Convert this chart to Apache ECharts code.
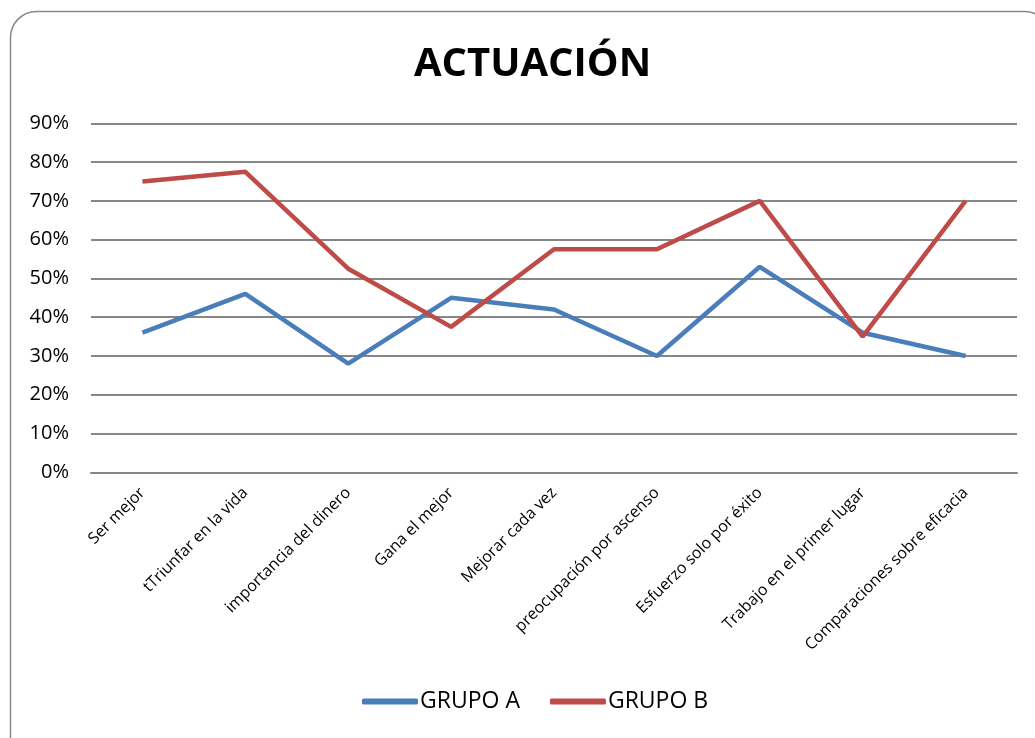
<!DOCTYPE html>
<html><head><meta charset="utf-8">
<script src="https://cdn.jsdelivr.net/npm/echarts@6/dist/echarts.min.js"></script>
<style>html,body{margin:0;padding:0;background:#fff}#c{width:1035px;height:738px}</style>
</head><body><div id="c"></div>
<script>
const categories = ['Ser mejor','tTriunfar en la vida','importancia del dinero','Gana el mejor','Mejorar cada vez','preocupación por ascenso','Esfuerzo solo por éxito','Trabajo en el primer lugar','Comparaciones sobre eficacia'];
const grupoA = [0.36,0.46,0.28,0.45,0.42,0.30,0.53,0.36,0.30];
const grupoB = [0.75,0.775,0.525,0.375,0.575,0.575,0.70,0.35,0.70];
const seriesNames = ['GRUPO A','GRUPO B'];
const titleText = 'ACTUACIÓN';

const chart = echarts.init(document.getElementById('c'), null, {renderer:'canvas'});
const font = '"Open Sans", "Noto Sans", sans-serif';
chart.setOption({
  animation:false,
  backgroundColor:'#fff',
  graphic:[{type:'rect',shape:{x:10.5,y:11.5,width:1040,height:760,r:26},style:{fill:'none',stroke:'#888',lineWidth:1.5},z:-1}],
  title:{text:titleText,left:409,top:40,textStyle:{fontFamily:font,fontSize:40,fontWeight:'bold',color:'#000'}},
  legend:{bottom:20,left:357,itemWidth:56,itemHeight:6,itemGap:30,icon:'roundRect',
    textStyle:{fontFamily:font,fontSize:23,color:'#000',padding:[0,0,0,-3]},data:seriesNames},
  grid:{left:91,right:18,top:123.3,height:349},
  xAxis:{type:'category',data:categories,boundaryGap:true,
    axisLine:{lineStyle:{color:'#868686',width:2}},axisTick:{show:false},
    axisLabel:{rotate:45,interval:0,fontFamily:font,fontSize:16,color:'#000',margin:18}},
  yAxis:{type:'value',min:0,max:0.9,interval:0.1,
    axisLine:{show:false},axisTick:{show:false},
    splitLine:{lineStyle:{color:'#868686',width:2}},
    axisLabel:{fontFamily:font,fontSize:20,color:'#000',margin:22,formatter:v=>Math.round(v*100)+'%'}},
  series:[
    {name:seriesNames[0],type:'line',data:grupoA,symbol:'none',lineStyle:{color:'#4a7ebb',width:4.5},itemStyle:{color:'#4a7ebb'}},
    {name:seriesNames[1],type:'line',data:grupoB,symbol:'none',lineStyle:{color:'#be4b48',width:4.5},itemStyle:{color:'#be4b48'}}
  ]
});
</script></body></html>
